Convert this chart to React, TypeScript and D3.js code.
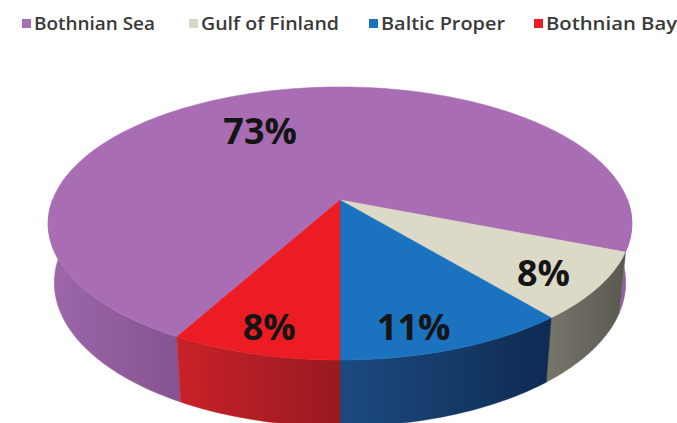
import React from "react";
import * as d3 from "d3";

// ---- data ----
const categories = ["Bothnian Sea", "Gulf of Finland", "Baltic Proper", "Bothnian Bay"];
const values = [73, 8, 11, 8];
const percentLabels = ["73%", "8%", "11%", "8%"];

// ---- styles ----
const topColors = ["#a96db4", "#dcd9c7", "#1b72bf", "#ec1c24"];
const sideLight = ["#9d67aa", "#78766b", "#1c4a80", "#c92129"];
const sideDark = ["#85538f", "#5a5950", "#0e2b52", "#981a1f"];
const legendSwatch = ["#a96db4", "#d5d8c8", "#1b72bf", "#ec1c24"];

// ---- layout ----
const W = 677;
const H = 423;
const CX = 340;
const CY = 200;
const FOCAL = 1482;
const DIST = 5.155;
const TILT = Math.asin(0.461);
const THICK = 0.234;
const START_DEG = 208.8;
const labelRadius = [0.65, 0.82, 0.85, 0.85];
const labelShiftDeg = [-8.2, 2, 4.8, 0];
const legendX = [22, 189, 369, 534];
const legendTextW = [121, 138, 124, 131];

const sinT = Math.sin(TILT);
const cosT = Math.cos(TILT);

// theta: d3 pie angle (clockwise from the back), r: radius fraction, y: height (0 top)
function project(theta: number, r: number, y: number): [number, number] {
  const x = r * Math.sin(theta);
  const z = -r * Math.cos(theta);
  const depth = DIST - (y * sinT + z * cosT);
  const u = y * cosT - z * sinT;
  return [CX + (FOCAL * x) / depth, CY - (FOCAL * u) / depth];
}

function arcPts(a0: number, a1: number, y: number): [number, number][] {
  const n = Math.max(4, Math.ceil((Math.abs(a1 - a0) * 180) / Math.PI));
  return d3.range(n + 1).map((i) => project(a0 + ((a1 - a0) * i) / n, 1, y));
}

const line = d3.line<[number, number]>().curve(d3.curveLinear);

export default function App() {
  const start = (START_DEG * Math.PI) / 180;
  const pie = d3
    .pie<number>()
    .sort(null)
    .startAngle(start)
    .endAngle(start + 2 * Math.PI);
  const arcs = pie(values);

  // visible (front-facing) angular windows
  const windows: [number, number][] = [
    [Math.PI / 2, (3 * Math.PI) / 2],
    [Math.PI / 2 + 2 * Math.PI, (3 * Math.PI) / 2 + 2 * Math.PI],
  ];

  const sides: { i: number; d: string; x0: number; x1: number; key: string }[] = [];
  arcs.forEach((a, i) => {
    windows.forEach((w, k) => {
      const s0 = Math.max(a.startAngle, w[0]);
      const s1 = Math.min(a.endAngle, w[1]);
      if (s1 - s0 > 1e-6) {
        const top = arcPts(s0, s1, 0);
        const bot = arcPts(s1, s0, -THICK);
        const pts = top.concat(bot);
        const xs = pts.map((p) => p[0]);
        sides.push({
          i,
          d: (line(pts) || "") + "Z",
          x0: d3.min(xs) as number,
          x1: d3.max(xs) as number,
          key: `s${i}-${k}`,
        });
      }
    });
  });

  const tops = arcs.map((a, i) => {
    const pts: [number, number][] = [[CX, CY] as [number, number]].concat(
      arcPts(a.startAngle, a.endAngle, 0)
    );
    return { i, d: (line(pts) || "") + "Z" };
  });

  const labelPos = arcs.map((a, i) => {
    const mid = (a.startAngle + a.endAngle) / 2 + (labelShiftDeg[i] * Math.PI) / 180;
    return project(mid, labelRadius[i], 0);
  });

  return (
    <svg
      width={W}
      height={H}
      viewBox={`0 0 ${W} ${H}`}
      style={{ position: "fixed", left: 0, top: 0, background: "#ffffff" }}
    >
      <defs>
        {sides.map((s) => (
          <linearGradient
            key={"g" + s.key}
            id={"g" + s.key}
            gradientUnits="userSpaceOnUse"
            x1={s.x0}
            y1={0}
            x2={s.x1}
            y2={0}
          >
            <stop offset="0%" stopColor={sideLight[s.i]} />
            <stop offset="100%" stopColor={sideDark[s.i]} />
          </linearGradient>
        ))}
      </defs>

      {/* legend */}
      <g fontFamily="'Open Sans', sans-serif" fontWeight={600} fontSize={18} fill="#3a3a3a">
        {categories.map((c, i) => (
          <g key={c}>
            <rect x={legendX[i]} y={19} width={9} height={9} fill={legendSwatch[i]} />
            <text
              x={legendX[i] + 12}
              y={30}
              textLength={legendTextW[i]}
              lengthAdjust="spacingAndGlyphs"
            >
              {c}
            </text>
          </g>
        ))}
      </g>

      {/* sides */}
      {sides.map((s) => (
        <path key={s.key} d={s.d} fill={`url(#g${s.key})`} stroke={`url(#g${s.key})`} strokeWidth={0.5} />
      ))}

      {/* tops */}
      {tops.map((t) => (
        <path key={"t" + t.i} d={t.d} fill={topColors[t.i]} stroke={topColors[t.i]} strokeWidth={0.5} />
      ))}

      {/* labels */}
      <g fontFamily="'Open Sans', sans-serif" fontWeight={700} fontSize={36} fill="#151515" textAnchor="middle">
        {percentLabels.map((l, i) => (
          <text key={"l" + i} x={labelPos[i][0]} y={labelPos[i][1]} dy="0.36em">
            {l}
          </text>
        ))}
      </g>
    </svg>
  );
}
